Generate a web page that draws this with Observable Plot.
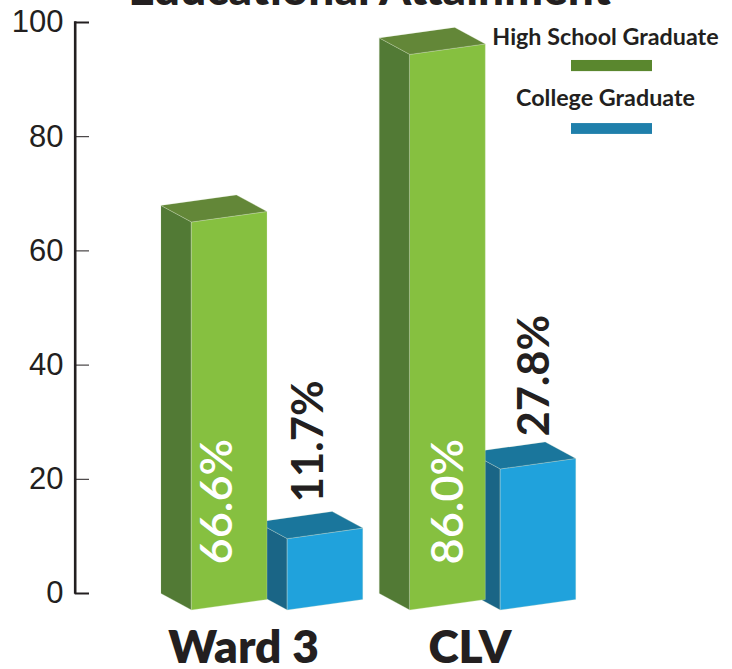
<!DOCTYPE html>
<html>
<head>
<meta charset="utf-8">
<script src="https://cdn.jsdelivr.net/npm/d3@7"></script>
<script src="https://cdn.jsdelivr.net/npm/@observablehq/plot@0.6"></script>
<style>
html,body{margin:0;padding:0;background:#fff;}
#chart{width:732px;height:669px;overflow:hidden;}
svg{display:block;}
</style>
</head>
<body>
<div id="chart"></div>
<script>
// Data
const categories = ["Ward 3", "CLV"];
const seriesNames = ["High School Graduate", "College Graduate"];
const highSchoolLabels = [66.6, 86.0];
const collegeLabels = [11.7, 27.8];
// Heights as drawn against the axis (the artwork does not follow the printed labels)
const highSchoolHeights = [67.95, 97.3];
const collegeHeights = [12.5, 24.7];
const yTicks = [0, 20, 40, 60, 80, 100];
const titleText = "Educational Attainment";

// Layout: x unit = one bar front width
const ink = "#231f20";
const unitPx = 75.5;
const depthX = 30.5 / unitPx;
const depthY = 2.89;
const skewY = 1.84;
const slotHS = [191 / unitPx, 409.3 / unitPx];
const slotCG = [286.8 / unitPx, 499.8 / unitPx];
const palette = {
  hs: {front: "#86c040", side: "#527a35", top: "#638738"},
  cg: {front: "#20a2dc", side: "#1a6586", top: "#1a769c"}
};

function faces(id, left, h, colors) {
  const rows = [];
  const push = (face, pts) => pts.forEach(([x, y]) => rows.push({key: id + face, x, y, color: colors[face]}));
  push("side", [[left - depthX, 0], [left, -depthY], [left, h - depthY], [left - depthX, h]]);
  push("front", [[left, -depthY], [left + 1, skewY - depthY], [left + 1, h + skewY - depthY], [left, h - depthY]]);
  push("top", [[left - depthX, h], [left, h - depthY], [left + 1, h + skewY - depthY], [left + 1 - depthX, h + skewY]]);
  return rows;
}

const polys = [
  ...categories.flatMap((c, i) => faces("cg" + i, slotCG[i], collegeHeights[i], palette.cg)),
  ...categories.flatMap((c, i) => faces("hs" + i, slotHS[i], highSchoolHeights[i], palette.hs))
];

const labelsInside = categories.map((c, i) => ({
  x: [217.2 / unitPx, 448 / unitPx][i], y: 5.1, t: highSchoolLabels[i].toFixed(1) + "%"
}));
const labelsAbove = categories.map((c, i) => ({
  x: [308.5 / unitPx, 535 / unitPx][i], y: [16.0, 27.5][i], t: collegeLabels[i].toFixed(1) + "%"
}));
const catLabels = categories.map((c, i) => ({c, x: [243 / unitPx, 469.5 / unitPx][i]}));
const legendRows = seriesNames.map((name, i) => ({
  name, x: 605 / unitPx, y: [96.1, 85.45][i],
  x1: 571 / unitPx, x2: 652 / unitPx,
  y1: [91.4, 80.4][i], y2: [93.35, 82.3][i],
  color: ["#5a872e", "#1f7fab"][i]
}));

const chart = Plot.plot({
  width: 732,
  height: 669,
  marginLeft: 74,
  marginRight: 0,
  marginTop: 0,
  marginBottom: 0,
  style: {background: "#fff"},
  x: {domain: [0, 732 / unitPx], range: [0, 732], axis: null},
  y: {domain: [0, 100], range: [593, 22], axis: null},
  marks: [
    Plot.axisY({
      ticks: yTicks, tickSize: 0, tickPadding: 11, label: null,
      fontSize: 31, fontFamily: "Liberation Sans", fill: ink
    }),
    Plot.ruleX([74.7 / unitPx], {y1: -0.13, y2: 100.13, stroke: ink, strokeWidth: 2.6}),
    Plot.ruleY(yTicks, {
      x1: 74.7 / unitPx, x2: 89 / unitPx, stroke: ink,
      strokeWidth: d => (d === 0 || d === 100 ? 2 : 1)
    }),
    Plot.line(polys, {
      x: "x", y: "y", z: "key", fill: "color", stroke: "#dfe8d0",
      strokeWidth: 0.4, strokeOpacity: 0.7, curve: "linear-closed"
    }),
    Plot.text(labelsInside, {
      x: "x", y: "y", text: "t", rotate: -90, textAnchor: "start", lineAnchor: "middle",
      fill: "#fff", fontFamily: "Lato", fontSize: 45, fontWeight: 600
    }),
    Plot.text(labelsAbove, {
      x: "x", y: "y", text: "t", rotate: -90, textAnchor: "start", lineAnchor: "middle",
      fill: ink, fontFamily: "Lato", fontSize: 43.5, fontWeight: 700
    }),
    Plot.text(catLabels, {
      x: "x", y: -12.2, text: "c", textAnchor: "middle", lineAnchor: "bottom",
      fill: ink, fontFamily: "Lato", fontSize: 46, fontWeight: 800
    }),
    Plot.text([titleText], {
      x: 369 / unitPx, y: 103, text: d => d, textAnchor: "middle", lineAnchor: "bottom",
      fill: ink, fontFamily: "Lato", fontSize: 46, fontWeight: 900
    }),
    Plot.text(legendRows, {
      x: "x", y: "y", text: "name", textAnchor: "middle", lineAnchor: "bottom",
      fill: ink, fontFamily: "Lato", fontSize: 23.3, fontWeight: 700
    }),
    Plot.rect(legendRows, {x1: "x1", x2: "x2", y1: "y1", y2: "y2", fill: "color"})
  ]
});
document.getElementById("chart").appendChild(chart);
</script>
</body>
</html>
